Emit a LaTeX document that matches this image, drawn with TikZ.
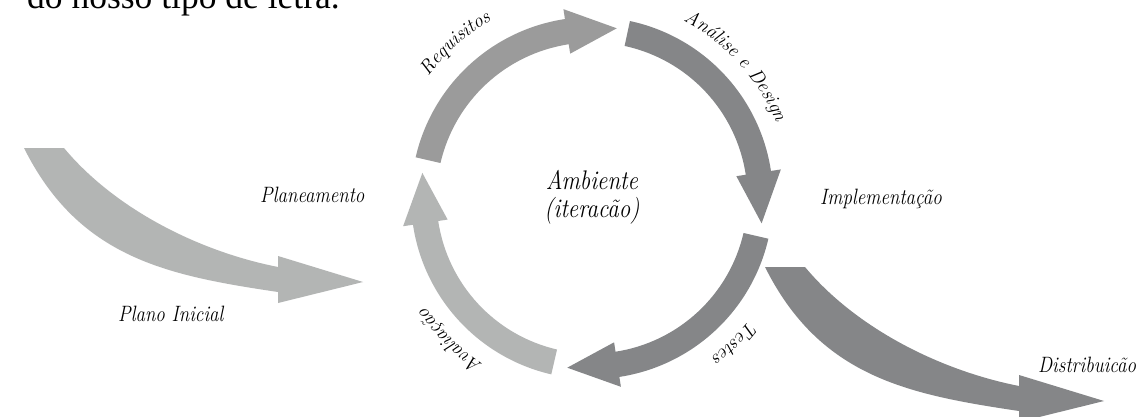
\documentclass[tikz,border=0pt]{standalone}
\usepackage{fontspec}
\usepackage{graphicx}
\newfontfamily\topfont{Liberation Serif}
\usetikzlibrary{decorations.text}
\definecolor{gmid}{HTML}{9B9B9B}
\definecolor{gdark}{HTML}{858688}
\definecolor{glight}{HTML}{B3B5B4}
\newcommand\tallx[1]{\scalebox{1}[1.17]{#1}}
\tikzset{
  lbl/.style={font=\itshape\fontsize{19}{22}\selectfont, inner sep=0pt, text=black},
  arclbl/.style={decorate, decoration={text along path, text align=center, text={|\itshape\fontsize{19.5}{22}\selectfont|#1}}}
}
\newcommand\ringarr[4]{%
  \fill[#1] (#2:181pt) arc[start angle=#2, end angle=#3, radius=181pt]
    -- (#3:191pt) -- (#4:171.5pt) -- (#3:146pt) -- (#3:155.5pt)
    arc[start angle=#3, end angle=#2, radius=155.5pt] -- cycle;}
\newcommand\swooshpath{%
  (24,-148) .. controls (79,-258) and (167,-275.5) .. (278,-292)
  -- (278,-303) -- (363,-282) -- (278,-256) -- (278,-267)
  .. controls (197,-251) and (114,-208) .. (64,-148) -- cycle}
\begin{document}
\begin{tikzpicture}[x=1pt,y=1pt]
\clip (0,-417) rectangle (1148,0);
\fill[white] (0,-417) rectangle (1148,0);
\node[anchor=base west, inner sep=0pt, font=\topfont\fontsize{35.5}{40}\selectfont] (toptext) at (27,-9) {do nosso tipo de letra.};
% entry and exit arrows
\fill[glight] \swooshpath;
\begin{scope}[shift={(741,-119)}]
\fill[gdark] \swooshpath;
\end{scope}
% ring
\begin{scope}[shift={(592,-198)}]
\ringarr{gmid}{167}{98.6}{81.7}
\ringarr{gdark}{77.9}{8.6}{-8.5}
\ringarr{gdark}{-13}{-81.3}{-98.3}
\ringarr{glight}{-103}{-171.5}{-188.4}
\path[arclbl={Requisitos}] (161.5:204pt) arc[start angle=161.5, end angle=101.5, radius=204pt];
\path[arclbl={Análise e Design}] (80:199pt) arc[start angle=80, end angle=5, radius=199pt];
\path[arclbl={Testes}] (-15:199pt) arc[start angle=-15, end angle=-76, radius=199pt];
\path[arclbl={Avaliação}] (-105:199pt) arc[start angle=-105, end angle=-165, radius=199pt];
\node[font=\itshape\fontsize{23}{28}\selectfont, align=center, inner sep=0pt] (amb) at (0,1) {\tallx{Ambiente}\\\tallx{(iteracão)}};
\end{scope}
\node[lbl, anchor=base west] (impl) at (820,-204) {\tallx{Implementação}};
\node[lbl, anchor=base west] (plan) at (260,-202) {\tallx{Planeamento}};
\node[lbl, anchor=base west] (plano) at (118,-321) {\tallx{Plano Inicial}};
\node[lbl, anchor=base west] (dist) at (1038,-372) {\tallx{Distribuicão}};
\end{tikzpicture}
\end{document}
